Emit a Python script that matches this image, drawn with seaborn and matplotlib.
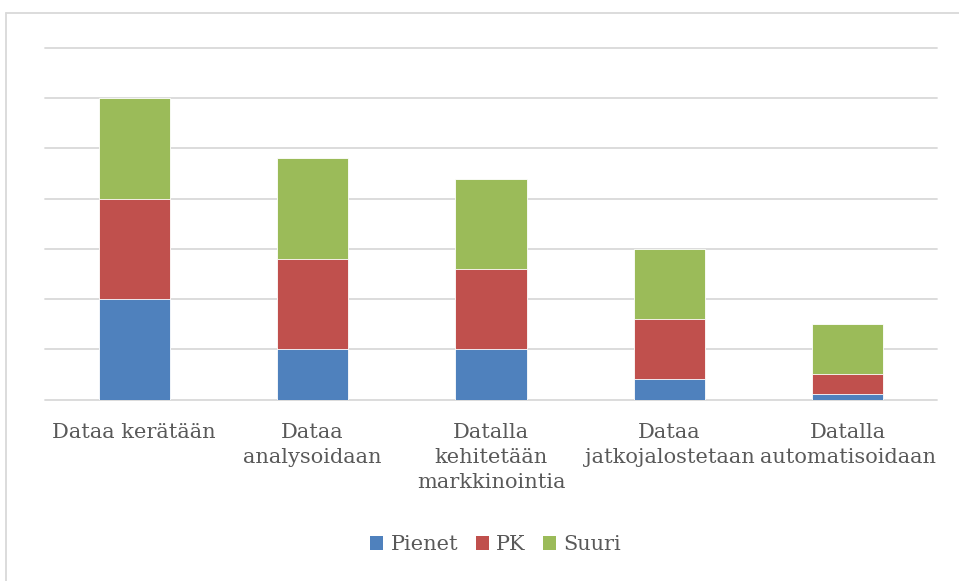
import matplotlib
matplotlib.use("Agg")
import matplotlib.pyplot as plt
from matplotlib.lines import Line2D
from matplotlib.patches import Patch
import numpy as np
import pandas as pd
import seaborn as sns

categories = [
    "Dataa kerätään",
    "Dataa\nanalysoidaan",
    "Datalla\nkehitetään\nmarkkinointia",
    "Dataa\njatkojalostetaan",
    "Datalla\nautomatisoidaan",
]
series = ["Pienet", "PK", "Suuri"]
pienet = [2.0, 1.0, 1.0, 0.4, 0.1]
pk = [2.0, 1.8, 1.6, 1.2, 0.4]
suuri = [2.0, 2.0, 1.8, 1.4, 1.0]
colors = {"Pienet": "#4F81BD", "PK": "#C0504D", "Suuri": "#9BBB59"}
text_color = "#595959"

sns.set_theme(style="white")
plt.rcParams["font.family"] = ["DejaVu Serif"]

df = pd.DataFrame({"kategoria": categories, "Pienet": pienet, "PK": pk, "Suuri": suuri})
# cumulative heights for layered stacking
df["c_Pienet"] = df["Pienet"]
df["c_PK"] = df["Pienet"] + df["PK"]
df["c_Suuri"] = df["c_PK"] + df["Suuri"]

fig = plt.figure(figsize=(9.59, 5.81), dpi=100)
ax = fig.add_axes([45 / 959, 1 - 399.5 / 581, 892 / 959, (399.5 - 48) / 581])

for s in ["Suuri", "PK", "Pienet"]:
    sns.barplot(data=df, x="kategoria", y="c_" + s, color=colors[s], width=0.4,
                saturation=1, edgecolor="#FFFFFF", linewidth=0.6, ax=ax, zorder=3)

ax.set_ylim(0, 7)
ax.set_yticks(np.arange(0, 8, 1))
ax.set_yticklabels([])
ax.tick_params(axis="y", length=0)
ax.yaxis.grid(True, color="#D9D9D9", linewidth=1.3)
for gl in ax.get_ygridlines():
    gl.set_clip_on(False)
ax.set_axisbelow(True)
for sp in ax.spines.values():
    sp.set_visible(False)
ax.set_xlabel("")
ax.set_ylabel("")
ax.tick_params(axis="x", length=0, pad=17, labelsize=15, labelcolor=text_color)
for lbl in ax.get_xticklabels():
    lbl.set_linespacing(1.4)

handles = [Patch(facecolor=colors[s], edgecolor="none") for s in series]
fig.legend(handles, series, loc="center", bbox_to_anchor=(0.517, 1 - 545 / 581),
           ncol=3, frameon=False, fontsize=15, handlelength=0.62, handleheight=0.62,
           handletextpad=0.35, columnspacing=0.85, labelcolor=text_color)

# chart area frame: top and left edges
x0, y0 = 6 / 959, 1 - 13 / 581
fig.add_artist(Line2D([x0, 1.0], [y0, y0], transform=fig.transFigure,
                      color="#D9D9D9", linewidth=1.3))
fig.add_artist(Line2D([x0, x0], [0.0, y0], transform=fig.transFigure,
                      color="#D9D9D9", linewidth=1.3))

fig.savefig("out.png", dpi=100)
